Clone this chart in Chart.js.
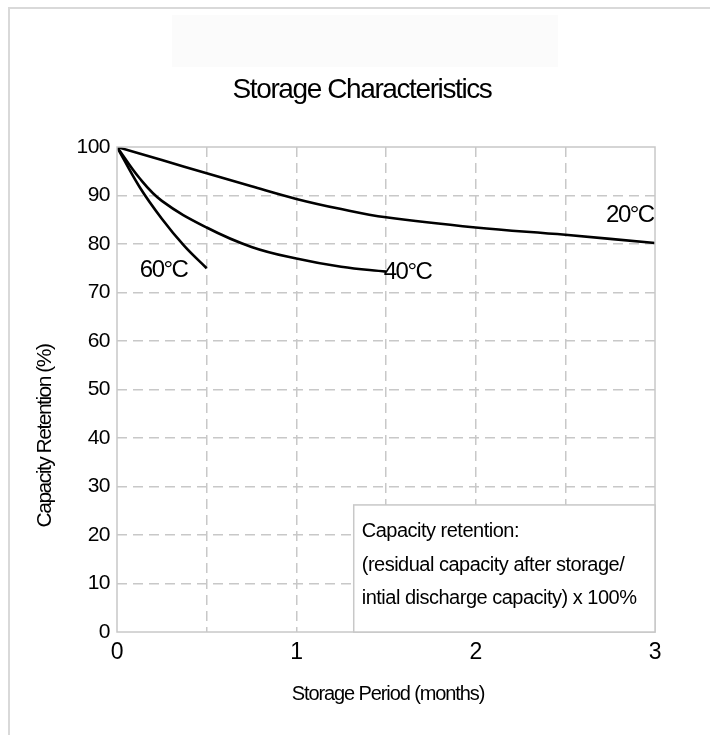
<!DOCTYPE html>
<html>
<head>
<meta charset="utf-8">
<title>Storage Characteristics</title>
<script src="https://cdn.jsdelivr.net/npm/chart.js@4/dist/chart.umd.min.js"></script>
<style>
  html, body { margin: 0; padding: 0; background: #fff; }
  #wrap { width: 710px; height: 735px; position: relative; }
</style>
</head>
<body>
<div id="wrap"><canvas id="storageChart" width="710" height="735"></canvas></div>
<script>
// --- data ---
const months20 = [0, 0.25, 0.5, 0.75, 1, 1.25, 1.5, 2, 2.5, 3];
const retention20 = [100, 97.3, 94.6, 91.9, 89.3, 87.2, 85.5, 83.4, 81.9, 80.2];

const months40 = [0, 0.125, 0.25, 0.5, 0.75, 1, 1.25, 1.5];
const retention40 = [100, 93.6, 88.9, 83.4, 79.4, 77.0, 75.3, 74.3];

const months60 = [0, 0.125, 0.25, 0.375, 0.5];
const retention60 = [100, 91.8, 85.2, 79.6, 75.0];

const gridMonths = [0, 0.5, 1, 1.5, 2, 2.5, 3];
const labelledMonths = [0, 1, 2, 3];
const retentionTicks = [0, 10, 20, 30, 40, 50, 60, 70, 80, 90, 100];

const curveNames = ['20\u00b0C', '40\u00b0C', '60\u00b0C'];
const curveLabelX = [2.86, 1.62, 0.26];
const curveLabelY = [85.8, 74.2, 74.6];

const noteLines = [
    'Capacity retention:',
    '(residual capacity after storage/',
    'intial discharge capacity) x 100%'
];

const FONT = "'Liberation Sans', Arial, sans-serif";

function toPoints(xs, ys) {
    return xs.map((x, i) => ({ x: x, y: ys[i] }));
}

// tight spaced text like the original artwork
function tightText(ctx, text, x, y, size, spacing) {
    ctx.save();
    ctx.font = size + 'px ' + FONT;
    ctx.letterSpacing = spacing + 'px';
    ctx.fillText(text, x, y);
    ctx.restore();
}

const extrasPlugin = {
    id: 'extras',
    beforeDraw(chart) {
        const ctx = chart.ctx;
        const area = chart.chartArea;
        ctx.save();
        ctx.fillStyle = '#fbfbfb';
        ctx.fillRect(172, 15, 386, 52);
        ctx.strokeStyle = '#d9d9d9';
        ctx.lineWidth = 2;
        ctx.beginPath();
        ctx.moveTo(9, chart.height);
        ctx.lineTo(9, 8);
        ctx.lineTo(chart.width, 8);
        ctx.stroke();

        ctx.fillStyle = '#000';
        ctx.textAlign = 'center';
        ctx.textBaseline = 'middle';
        tightText(ctx, 'Storage Characteristics', 362, 90, 28, -1.4);
        tightText(ctx, 'Storage Period (months)', (area.left + area.right) / 2 + 2, 694, 20, -1.1);

        // y title sits lower than the axis middle in the original
        ctx.translate(45, 436);
        ctx.rotate(-Math.PI / 2);
        tightText(ctx, 'Capacity Retention (%)', 0, 0, 21, -1.5);
        ctx.restore();

        // spacing used by the tick labels drawn next
        ctx.letterSpacing = '-0.5px';
    },
    afterDatasetsDraw(chart) {
        const ctx = chart.ctx;
        const area = chart.chartArea;
        const xs = chart.scales.x;
        const ys = chart.scales.y;
        ctx.save();

        // plot frame
        ctx.strokeStyle = '#c8c8c8';
        ctx.lineWidth = 1.5;
        ctx.strokeRect(area.left, area.top, area.right - area.left, area.bottom - area.top);

        // curve names
        ctx.fillStyle = '#000';
        ctx.textAlign = 'center';
        ctx.textBaseline = 'middle';
        curveNames.forEach((name, i) => {
            tightText(ctx, name, xs.getPixelForValue(curveLabelX[i]), ys.getPixelForValue(curveLabelY[i]), 24, -1.5);
        });

        // note box in the lower right corner
        const bx = xs.getPixelForValue(1.32);
        const by = ys.getPixelForValue(26.2);
        ctx.fillStyle = '#fff';
        ctx.fillRect(bx, by, area.right - bx, area.bottom - by);
        ctx.strokeStyle = '#c8c8c8';
        ctx.strokeRect(bx, by, area.right - bx, area.bottom - by);
        ctx.fillStyle = '#000';
        ctx.textAlign = 'left';
        noteLines.forEach((line, i) => {
            tightText(ctx, line, bx + 8, by + 27 + i * 33.5, 20, -0.5);
        });
        ctx.restore();
    }
};

const lineStyle = {
    borderColor: '#000',
    borderWidth: 2.6,
    pointRadius: 0,
    fill: false,
    tension: 0.4
};

const ctx = document.getElementById('storageChart').getContext('2d');
new Chart(ctx, {
    type: 'line',
    data: {
        datasets: [
            Object.assign({ label: curveNames[0], data: toPoints(months20, retention20) }, lineStyle),
            Object.assign({ label: curveNames[1], data: toPoints(months40, retention40) }, lineStyle),
            Object.assign({ label: curveNames[2], data: toPoints(months60, retention60) }, lineStyle)
        ]
    },
    options: {
        responsive: false,
        animation: false,
        devicePixelRatio: 1,
        layout: { padding: { left: 0, right: 55, top: 147, bottom: 0 } },
        plugins: {
            legend: { display: false },
            title: { display: false },
            tooltip: { enabled: false }
        },
        scales: {
            x: {
                type: 'linear',
                min: 0,
                max: 3,
                afterBuildTicks: (scale) => { scale.ticks = gridMonths.map(v => ({ value: v })); },
                afterFit: (scale) => { scale.height = 103; },
                ticks: {
                    color: '#000',
                    padding: 7,
                    maxRotation: 0,
                    autoSkip: false,
                    font: { family: FONT, size: 23 },
                    callback: (v) => labelledMonths.includes(v) ? String(v) : ''
                },
                grid: {
                    drawTicks: false,
                    lineWidth: 1.5,
                    color: (c) => (c.tick && (c.tick.value === 0 || c.tick.value === 3)) ? 'rgba(0,0,0,0)' : '#c8c8c8'
                },
                border: { display: false, dash: [10, 6] }
            },
            y: {
                min: 0,
                max: 100,
                afterBuildTicks: (scale) => { scale.ticks = retentionTicks.map(v => ({ value: v })); },
                afterFit: (scale) => { scale.width = 117; },
                ticks: {
                    color: '#000',
                    padding: 7,
                    font: { family: FONT, size: 21 }
                },
                grid: {
                    drawTicks: false,
                    lineWidth: 1.5,
                    color: (c) => (c.tick && (c.tick.value === 0 || c.tick.value === 100)) ? 'rgba(0,0,0,0)' : '#c8c8c8'
                },
                border: { display: false, dash: [10, 6] }
            }
        }
    },
    plugins: [extrasPlugin]
});
</script>
</body>
</html>
